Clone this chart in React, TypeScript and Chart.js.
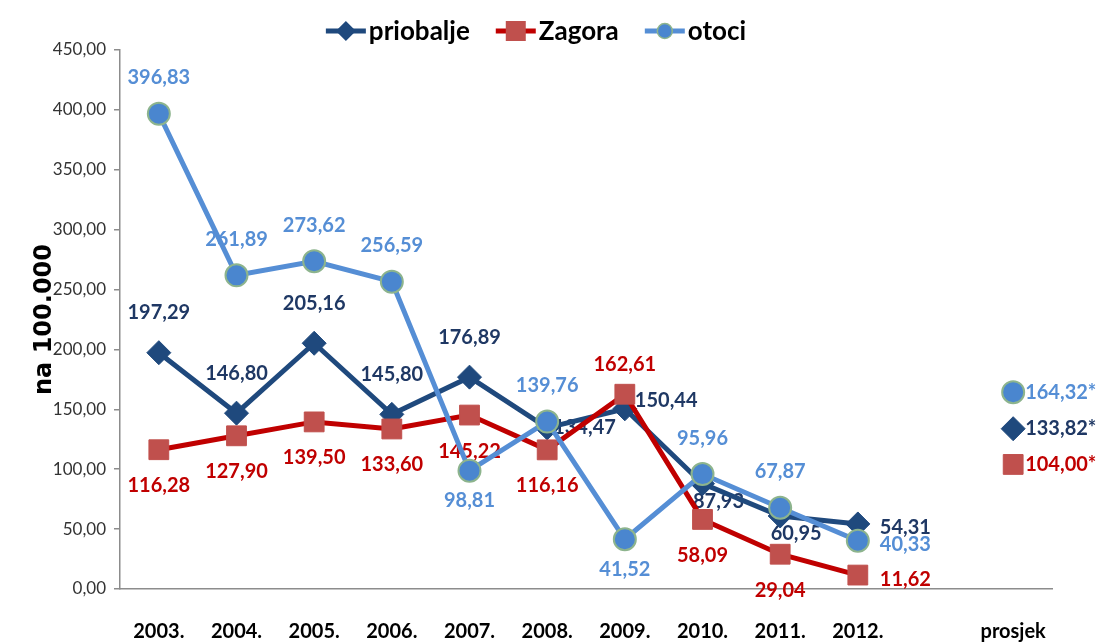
import React, { useEffect, useRef } from 'react';
import { Chart, registerables } from 'chart.js';

Chart.register(...registerables);

const categories = ['2003.', '2004.', '2005.', '2006.', '2007.', '2008.', '2009.', '2010.', '2011.', '2012.', '', 'prosjek'];
const seriesNames = ['priobalje', 'Zagora', 'otoci'];
const priobalje = [197.29, 146.8, 205.16, 145.8, 176.89, 134.47, 150.44, 87.93, 60.95, 54.31];
const zagora = [116.28, 127.9, 139.5, 133.6, 145.22, 116.16, 162.61, 58.09, 29.04, 11.62];
const otoci = [396.83, 261.89, 273.62, 256.59, 98.81, 139.76, 41.52, 95.96, 67.87, 40.33];
const prosjekPriobalje = 133.82;
const prosjekZagora = 104.0;
const prosjekOtoci = 164.32;
const yMin = 0;
const yMax = 450;
const yStep = 50;

// label placement per point: a = above, b = below, r = right, rn/ru = right near, br = below-right
const posPriobalje = ['a', 'a', 'a', 'a', 'a', 'rn', 'ru', 'br', 'br', 'r'];
const posZagora = ['b', 'b', 'b', 'b', 'b', 'b', 'a', 'b', 'b', 'r'];
const posOtoci = ['a', 'a', 'a', 'a', 'b', 'a', 'b', 'a', 'a', 'r'];

const C_PRI = '#1F497D';
const C_ZAG_LINE = '#C00000';
const C_ZAG_FILL = '#C0504D';
const C_OTO_LINE = '#558ED5';
const C_OTO_FILL = '#4A86CF';
const C_OTO_BORDER = '#8DB48D';

const fmt = (v: number) => v.toFixed(2).replace('.', ',');
const pad = (arr: number[]) => categories.map((_, i) => (i < arr.length ? arr[i] : null));
const avgData = (v: number) => categories.map((_, i) => (i === categories.length - 1 ? v : null));

function drawMarker(ctx: CanvasRenderingContext2D, style: string, x: number, y: number, r: number, fill: string, stroke: string, bw: number) {
  ctx.save();
  ctx.beginPath();
  if (style === 'circle') {
    ctx.arc(x, y, r, 0, Math.PI * 2);
  } else if (style === 'rect') {
    ctx.rect(x - r, y - r, 2 * r, 2 * r);
  } else {
    ctx.moveTo(x, y - r);
    ctx.lineTo(x + r, y);
    ctx.lineTo(x, y + r);
    ctx.lineTo(x - r, y);
    ctx.closePath();
  }
  ctx.fillStyle = fill;
  ctx.fill();
  if (bw > 0) {
    ctx.lineWidth = bw;
    ctx.strokeStyle = stroke;
    ctx.stroke();
  }
  ctx.restore();
}

const legendPlugin = {
  id: 'customLegend',
  afterDraw(chart: any) {
    const ctx = chart.ctx as CanvasRenderingContext2D;
    const items = [
      { text: seriesNames[0], line: C_PRI, fill: C_PRI, stroke: C_PRI, style: 'rectRot', r: 10, bw: 0 },
      { text: seriesNames[1], line: C_ZAG_LINE, fill: C_ZAG_FILL, stroke: C_ZAG_FILL, style: 'rect', r: 10, bw: 0 },
      { text: seriesNames[2], line: C_OTO_LINE, fill: C_OTO_FILL, stroke: C_OTO_BORDER, style: 'circle', r: 7.5, bw: 1.5 },
    ];
    ctx.save();
    ctx.font = 'bold 26px Lato';
    const lineLen = 40;
    const gapText = 3;
    const gapItem = 26;
    const widths = items.map((it) => lineLen + gapText + ctx.measureText(it.text).width);
    const total = widths.reduce((a, b) => a + b, 0) + gapItem * (items.length - 1);
    let x = 536 - total / 2;
    const y = 31;
    items.forEach((it, i) => {
      ctx.beginPath();
      ctx.moveTo(x, y);
      ctx.lineTo(x + lineLen, y);
      ctx.lineWidth = 5;
      ctx.strokeStyle = it.line;
      ctx.stroke();
      drawMarker(ctx, it.style, x + lineLen / 2, y, it.r, it.fill, it.stroke, it.bw);
      ctx.fillStyle = '#000';
      ctx.textAlign = 'left';
      ctx.textBaseline = 'middle';
      ctx.fillText(it.text, x + lineLen + gapText, y + 1);
      x += widths[i] + gapItem;
    });
    ctx.restore();
  },
};

const labelPlugin = {
  id: 'valueLabels',
  beforeDatasetsDraw(chart: any) {
    const ctx = chart.ctx as CanvasRenderingContext2D;
    const specs = [
      { idx: 0, pos: posPriobalje, color: '#1F3864', above: 40, below: 32 },
      { idx: 1, pos: posZagora, color: '#C00000', above: 30, below: 36 },
      { idx: 2, pos: posOtoci, color: '#558ED5', above: 36, below: 30 },
    ];
    ctx.save();
    ctx.font = 'bold 20px Lato';
    specs.forEach((s) => {
      const meta = chart.getDatasetMeta(s.idx);
      const data = chart.data.datasets[s.idx].data;
      meta.data.forEach((pt: any, i: number) => {
        const v = data[i];
        if (v === null || v === undefined) return;
        const p = s.pos[i];
        let x = pt.x;
        let y = pt.y;
        let align: CanvasTextAlign = 'center';
        if (p === 'a') y -= s.above;
        else if (p === 'b') y += s.below;
        else if (p === 'r') { x += 22; y += 4; align = 'left'; }
        else if (p === 'rn') { x += 6; align = 'left'; }
        else if (p === 'ru') { x += 10; y -= 8; align = 'left'; }
        else if (p === 'br') { x += 16; y += 18; }
        ctx.fillStyle = s.color;
        ctx.textAlign = align;
        ctx.textBaseline = 'middle';
        ctx.fillText(fmt(v), x, y);
      });
    });
    ctx.restore();
  },
  afterDatasetsDraw(chart: any) {
    const ctx = chart.ctx as CanvasRenderingContext2D;
    const avgSpecs = [
      { idx: 3, color: '#558ED5' },
      { idx: 4, color: '#1F3864' },
      { idx: 5, color: '#C00000' },
    ];
    ctx.save();
    ctx.font = 'bold 20px Lato';
    avgSpecs.forEach((s) => {
      const meta = chart.getDatasetMeta(s.idx);
      const data = chart.data.datasets[s.idx].data;
      meta.data.forEach((pt: any, i: number) => {
        const v = data[i];
        if (v === null || v === undefined) return;
        ctx.fillStyle = s.color;
        ctx.textAlign = 'left';
        ctx.textBaseline = 'middle';
        ctx.fillText(fmt(v) + '*', pt.x + 12, pt.y);
      });
    });
    ctx.restore();
  },
};

export default function App() {
  const canvasRef = useRef<HTMLCanvasElement | null>(null);

  useEffect(() => {
    document.body.style.margin = '0';
    const canvas = canvasRef.current;
    if (!canvas) return;
    const chart = new Chart(canvas, {
      type: 'line',
      data: {
        labels: categories,
        datasets: [
          {
            label: seriesNames[0],
            data: pad(priobalje),
            borderColor: C_PRI,
            backgroundColor: C_PRI,
            borderWidth: 5,
            pointStyle: 'rectRot',
            pointRadius: 12,
            pointBackgroundColor: C_PRI,
            pointBorderColor: C_PRI,
            pointBorderWidth: 1,
            tension: 0,
            order: 2,
          },
          {
            label: seriesNames[1],
            data: pad(zagora),
            borderColor: C_ZAG_LINE,
            backgroundColor: C_ZAG_FILL,
            borderWidth: 5,
            pointStyle: 'rect',
            pointRadius: 14,
            pointBackgroundColor: C_ZAG_FILL,
            pointBorderColor: C_ZAG_FILL,
            pointBorderWidth: 1,
            tension: 0,
            order: 1,
          },
          {
            label: seriesNames[2],
            data: pad(otoci),
            borderColor: C_OTO_LINE,
            backgroundColor: C_OTO_FILL,
            borderWidth: 5,
            pointStyle: 'circle',
            pointRadius: 11,
            pointBackgroundColor: C_OTO_FILL,
            pointBorderColor: C_OTO_BORDER,
            pointBorderWidth: 2,
            tension: 0,
            order: 0,
          },
          {
            label: 'prosjek otoci',
            data: avgData(prosjekOtoci),
            showLine: false,
            pointStyle: 'circle',
            pointRadius: 11,
            pointBackgroundColor: C_OTO_FILL,
            pointBorderColor: C_OTO_BORDER,
            pointBorderWidth: 2,
            borderColor: C_OTO_LINE,
          },
          {
            label: 'prosjek priobalje',
            data: avgData(prosjekPriobalje),
            showLine: false,
            pointStyle: 'rectRot',
            pointRadius: 12,
            pointBackgroundColor: C_PRI,
            pointBorderColor: C_PRI,
            pointBorderWidth: 1,
            borderColor: C_PRI,
          },
          {
            label: 'prosjek Zagora',
            data: avgData(prosjekZagora),
            showLine: false,
            pointStyle: 'rect',
            pointRadius: 14,
            pointBackgroundColor: C_ZAG_FILL,
            pointBorderColor: C_ZAG_FILL,
            pointBorderWidth: 1,
            borderColor: C_ZAG_LINE,
          },
        ],
      },
      options: {
        responsive: false,
        animation: false,
        devicePixelRatio: 1,
        layout: { padding: { left: 0, right: 66, top: 50, bottom: 0 } },
        plugins: {
          legend: { display: false },
          tooltip: { enabled: false },
          title: { display: false },
        },
        scales: {
          x: {
            offset: true,
            grid: { display: false, drawTicks: false },
            border: { display: true, color: '#8C8C8C', width: 1.5 },
            ticks: {
              autoSkip: false,
              maxRotation: 0,
              padding: 31,
              color: '#000',
              font: { family: 'Lato', size: 20, weight: 'bold' },
            },
            afterFit: (s: any) => { s.height = 55; },
          },
          y: {
            min: yMin,
            max: yMax,
            ticks: {
              stepSize: yStep,
              padding: 8,
              color: '#333333',
              font: { family: 'Lato', size: 17 },
              callback: (v: any) => fmt(Number(v)),
            },
            grid: { drawOnChartArea: false, drawTicks: true, tickLength: 6, color: '#8C8C8C', lineWidth: 1.5 },
            border: { display: true, color: '#8C8C8C', width: 1.5 },
            title: {
              display: true,
              text: 'na 100.000',
              color: '#000',
              font: { family: 'DejaVu Sans', size: 24, weight: 'bold' },
              padding: { top: 30, bottom: 0 },
            },
            afterFit: (s: any) => { s.width = 120; },
          },
        },
      },
      plugins: [labelPlugin, legendPlugin],
    });
    return () => chart.destroy();
  }, []);

  return (
    <div style={{ width: 1118, height: 644, background: '#fff' }}>
      <canvas ref={canvasRef} width={1118} height={644} />
    </div>
  );
}
